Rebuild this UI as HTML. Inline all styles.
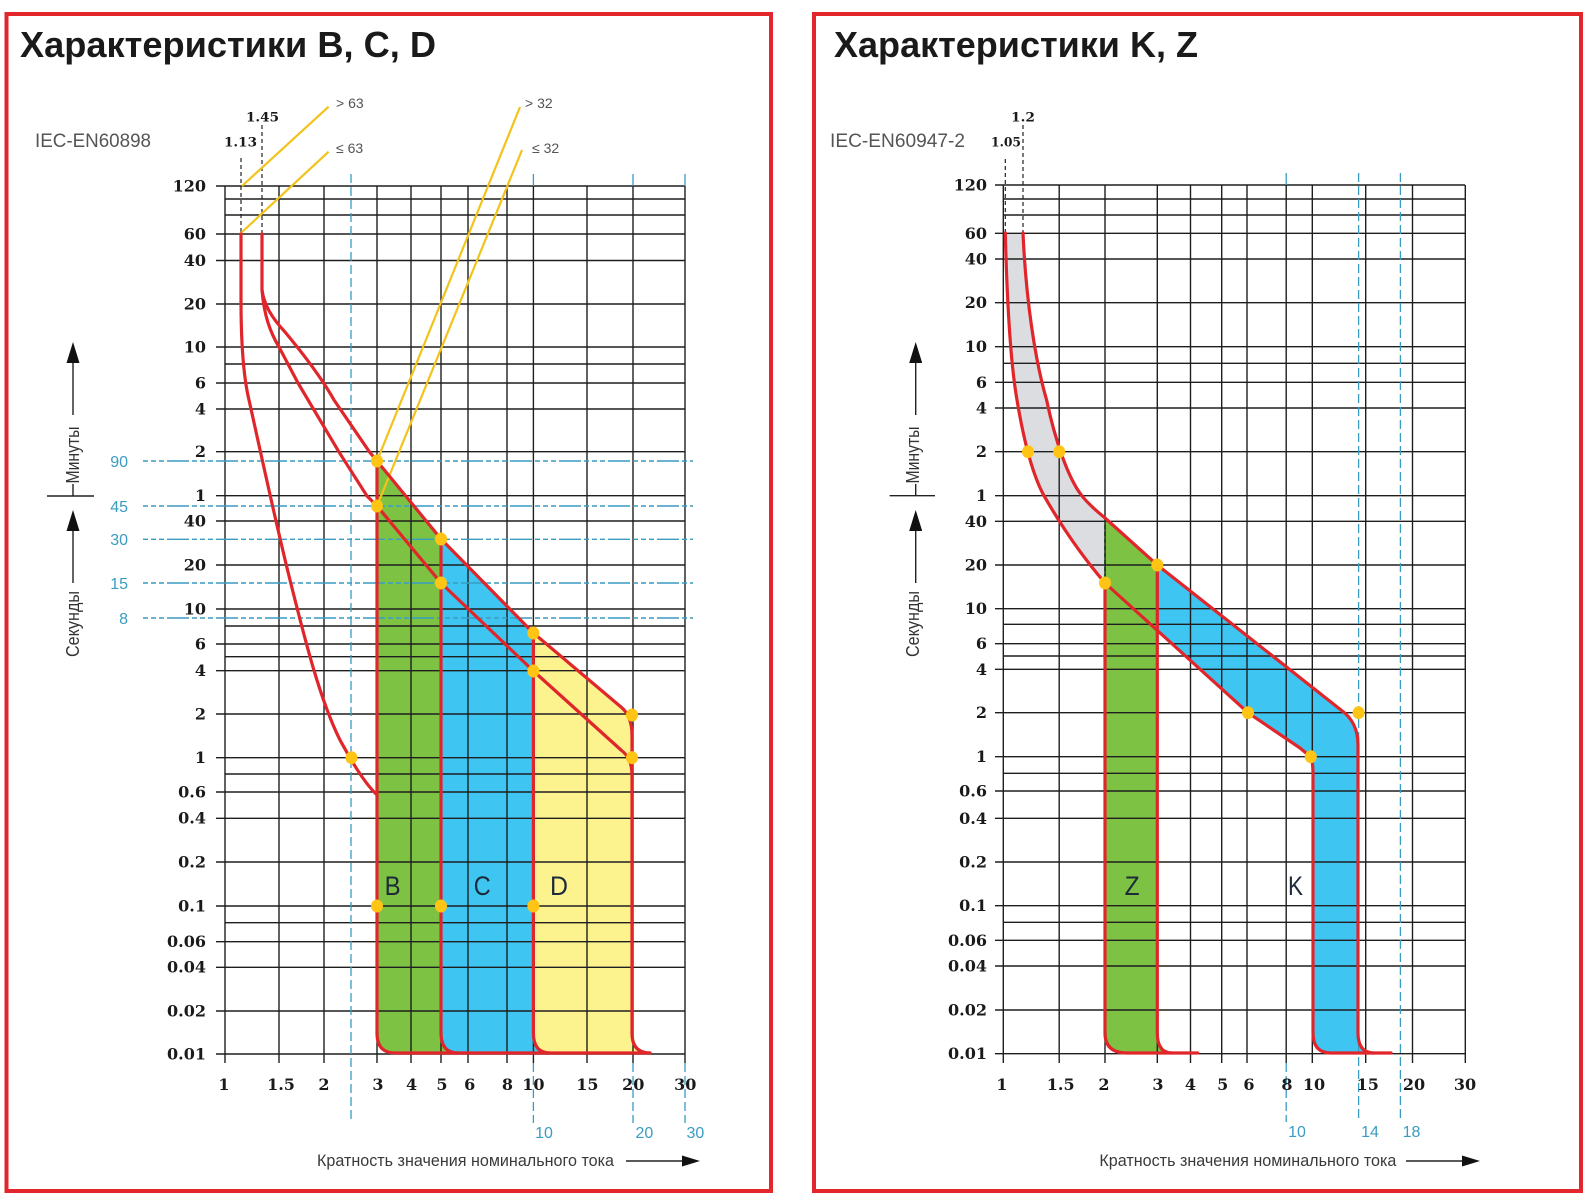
<!DOCTYPE html>
<html><head><meta charset="utf-8"><style>
html,body{margin:0;padding:0;background:#fff;}
svg{display:block;}
.tk{font-family:"DejaVu Serif","Liberation Serif",serif;font-weight:bold;font-size:16px;fill:#1a1a1a;}
.lt{font-family:"Liberation Sans","DejaVu Sans",sans-serif;}
</style></head><body>
<svg width="1589" height="1200" viewBox="0 0 1589 1200" xmlns="http://www.w3.org/2000/svg">
<rect x="0" y="0" width="1589" height="1200" fill="#fff"/>
<rect x="6.5" y="14" width="764.5" height="1177" fill="none" stroke="#e3262b" stroke-width="4"/>
<rect x="814" y="14" width="767" height="1177" fill="none" stroke="#e3262b" stroke-width="4"/>

<!-- ================= LEFT CHART ================= -->
<path d="M377,461 L441,539 L441,1033 Q441,1053 458,1053 L395,1053 Q377,1053 377,1033 Z" fill="#7dc242"/>
<path d="M441,539 L533.4,633 L533.4,1033 Q533.4,1053 550,1053 L458,1053 Q441,1053 441,1033 Z" fill="#3fc5f1"/>
<path d="M533.4,633 L621,707 Q632,716 632,735 L632,1033 Q632,1053 650,1053 L550,1053 Q533.4,1053 533.4,1033 Z" fill="#fdf38e"/>

<g stroke="#1e1e1e" stroke-width="1.4">
<line x1="225" y1="186" x2="225" y2="1063"/>
<line x1="279" y1="186" x2="279" y2="1063"/>
<line x1="324" y1="186" x2="324" y2="1063"/>
<line x1="377" y1="186" x2="377" y2="1063"/>
<line x1="411" y1="186" x2="411" y2="1063"/>
<line x1="441" y1="186" x2="441" y2="1063"/>
<line x1="468" y1="186" x2="468" y2="1063"/>
<line x1="507" y1="186" x2="507" y2="1063"/>
<line x1="533.4" y1="186" x2="533.4" y2="1063"/>
<line x1="587" y1="186" x2="587" y2="1063"/>
<line x1="633" y1="186" x2="633" y2="1063"/>
<line x1="685" y1="186" x2="685" y2="1063"/>
<line x1="216" y1="186" x2="685" y2="186"/>
<line x1="225" y1="199" x2="685" y2="199"/>
<line x1="225" y1="215" x2="685" y2="215"/>
<line x1="216" y1="234" x2="685" y2="234"/>
<line x1="216" y1="260.5" x2="685" y2="260.5"/>
<line x1="216" y1="304" x2="685" y2="304"/>
<line x1="216" y1="347" x2="685" y2="347"/>
<line x1="225" y1="364" x2="685" y2="364"/>
<line x1="216" y1="383" x2="685" y2="383"/>
<line x1="216" y1="409" x2="685" y2="409"/>
<line x1="216" y1="451.7" x2="685" y2="451.7"/>
<line x1="216" y1="495.7" x2="685" y2="495.7"/>
<line x1="216" y1="521" x2="685" y2="521"/>
<line x1="216" y1="565" x2="685" y2="565"/>
<line x1="216" y1="609" x2="685" y2="609"/>
<line x1="225" y1="626" x2="685" y2="626"/>
<line x1="216" y1="644" x2="685" y2="644"/>
<line x1="225" y1="656.7" x2="685" y2="656.7"/>
<line x1="216" y1="670.7" x2="685" y2="670.7"/>
<line x1="216" y1="714" x2="685" y2="714"/>
<line x1="216" y1="757.7" x2="685" y2="757.7"/>
<line x1="225" y1="774" x2="685" y2="774"/>
<line x1="216" y1="792" x2="685" y2="792"/>
<line x1="216" y1="818.3" x2="685" y2="818.3"/>
<line x1="216" y1="862" x2="685" y2="862"/>
<line x1="216" y1="906" x2="685" y2="906"/>
<line x1="225" y1="922.7" x2="685" y2="922.7"/>
<line x1="216" y1="941.7" x2="685" y2="941.7"/>
<line x1="216" y1="967.3" x2="685" y2="967.3"/>
<line x1="216" y1="1011" x2="685" y2="1011"/>
<line x1="216" y1="1054" x2="685" y2="1054"/>
</g>
<g stroke="#3a9cc2" stroke-width="1.3">
<line x1="351" y1="174" x2="351" y2="1123" stroke-dasharray="9 4"/>
<line x1="533.4" y1="174" x2="533.4" y2="186"/>
<line x1="633" y1="174" x2="633" y2="186"/>
<line x1="685" y1="174" x2="685" y2="186"/>
<line x1="533.4" y1="1063" x2="533.4" y2="1123" stroke-dasharray="9 4"/>
<line x1="633" y1="1063" x2="633" y2="1123" stroke-dasharray="9 4"/>
<line x1="685" y1="1063" x2="685" y2="1123" stroke-dasharray="9 4"/>
</g>
<g stroke="#3a9cc2" stroke-width="1.4" stroke-dasharray="5 3 5 3 5 3 22 3">
<line x1="143" y1="461" x2="693" y2="461"/>
<line x1="143" y1="506" x2="693" y2="506"/>
<line x1="143" y1="539.3" x2="693" y2="539.3"/>
<line x1="143" y1="583" x2="693" y2="583"/>
<line x1="143" y1="618" x2="693" y2="618"/>
</g>
<g class="lt" font-size="16" fill="#3a9cc2" text-anchor="end">
<text x="128" y="467">90</text>
<text x="128" y="512">45</text>
<text x="128" y="545">30</text>
<text x="128" y="589">15</text>
<text x="128" y="624">8</text>
</g>
<g stroke="#222" stroke-width="1.2" stroke-dasharray="4 3">
<line x1="241" y1="158" x2="241" y2="234"/>
<line x1="262" y1="125" x2="262" y2="234"/>
</g>
<g stroke="#f2c31b" stroke-width="2.2" fill="none">
<line x1="242" y1="186" x2="328.6" y2="106.7"/>
<line x1="241" y1="233" x2="328.6" y2="151.7"/>
<line x1="520" y1="107" x2="377" y2="461"/>
<line x1="522" y1="150" x2="377" y2="506"/>
</g>
<g stroke="#e0262b" stroke-width="3.2" fill="none" stroke-linejoin="round" stroke-linecap="round">
<path d="M241,234 L241,300 C241,340 243,375 249,400 C258,440 275,520 290,580 C305,640 320,700 340,740 C350,758 362,780 376,794"/>
<path d="M262,234 L262,290 C264,305 272,318 285,332 C300,350 320,375 334,400 L369.3,451.7 L377,461 L441,539 L533.4,633 L621,707 Q632,716 632,735 L632,1033 Q632,1053 650,1053"/>
<path d="M262,290 C264,315 270,332 279,347 L298,383 L338.8,451.7 L366.8,495.7 L377,506 L441,583 L533.4,671 L621,750 Q632,758 632,775"/>
<path d="M377,461 L377,1033 Q377,1053 395,1053 L650,1053"/>
<path d="M441,539 L441,1033 Q441,1053 458,1053"/>
<path d="M533.4,633 L533.4,1033 Q533.4,1053 550,1053"/>
</g>
<g fill="#ffc414">
<ellipse cx="377" cy="461" rx="6" ry="6.5"/>
<ellipse cx="377" cy="506" rx="6" ry="6.5"/>
<ellipse cx="441" cy="539" rx="6" ry="6.5"/>
<ellipse cx="441" cy="583" rx="6" ry="6.5"/>
<ellipse cx="533.4" cy="633" rx="6" ry="6.5"/>
<ellipse cx="533.4" cy="671" rx="6" ry="6.5"/>
<ellipse cx="632" cy="715" rx="6" ry="6.5"/>
<ellipse cx="632" cy="757.7" rx="6" ry="6.5"/>
<ellipse cx="351.5" cy="757.7" rx="6" ry="6.5"/>
<ellipse cx="377" cy="906" rx="6" ry="6.5"/>
<ellipse cx="441" cy="906" rx="6" ry="6.5"/>
<ellipse cx="533.4" cy="906" rx="6" ry="6.5"/>
</g>
<g class="tk" text-anchor="end">
<text x="206" y="191.5">120</text>
<text x="206" y="239.5">60</text>
<text x="206" y="266">40</text>
<text x="206" y="309.5">20</text>
<text x="206" y="352.5">10</text>
<text x="206" y="388.5">6</text>
<text x="206" y="414.5">4</text>
<text x="206" y="457">2</text>
<text x="206" y="501">1</text>
<text x="206" y="526.5">40</text>
<text x="206" y="570.5">20</text>
<text x="206" y="614.5">10</text>
<text x="206" y="649.5">6</text>
<text x="206" y="676">4</text>
<text x="206" y="719.5">2</text>
<text x="206" y="763">1</text>
<text x="206" y="797.5">0.6</text>
<text x="206" y="823.5">0.4</text>
<text x="206" y="867.5">0.2</text>
<text x="206" y="911.5">0.1</text>
<text x="206" y="947">0.06</text>
<text x="206" y="972.5">0.04</text>
<text x="206" y="1016.5">0.02</text>
<text x="206" y="1059.5">0.01</text>
</g>
<g class="tk" text-anchor="middle">
<text x="224" y="1090">1</text>
<text x="281" y="1090">1.5</text>
<text x="324" y="1090">2</text>
<text x="378" y="1090">3</text>
<text x="411.6" y="1090">4</text>
<text x="442" y="1090">5</text>
<text x="469.7" y="1090">6</text>
<text x="507.4" y="1090">8</text>
<text x="533.4" y="1090">10</text>
<text x="587.4" y="1090">15</text>
<text x="633.2" y="1090">20</text>
<text x="685.2" y="1090">30</text>
</g>
<g class="lt" font-size="16" fill="#3a9cc2" text-anchor="middle">
<text x="544" y="1138">10</text>
<text x="644.4" y="1138">20</text>
<text x="695.4" y="1138">30</text>
</g>
<g class="lt" font-size="27" fill="#1d2a3a">
<text x="384.6" y="895" textLength="16" lengthAdjust="spacingAndGlyphs">B</text>
<text x="473.8" y="895" textLength="17" lengthAdjust="spacingAndGlyphs">C</text>
<text x="550" y="895" textLength="18" lengthAdjust="spacingAndGlyphs">D</text>
</g>
<text x="20" y="57" font-family="Liberation Sans, sans-serif" font-weight="bold" font-size="36" fill="#1a1a1a" textLength="416" lengthAdjust="spacingAndGlyphs">Характеристики B, C, D</text>
<text x="35" y="147" class="lt" font-size="19" fill="#555" textLength="116" lengthAdjust="spacingAndGlyphs">IEC-EN60898</text>
<text x="224" y="146.5" class="tk" textLength="33" lengthAdjust="spacingAndGlyphs" style="font-size:13px">1.13</text>
<text x="246" y="121.5" class="tk" textLength="33" lengthAdjust="spacingAndGlyphs" style="font-size:13px">1.45</text>
<g class="lt" font-size="14" fill="#555">
<text x="336" y="108">&gt; 63</text>
<text x="336" y="153">≤ 63</text>
<text x="525" y="108">&gt; 32</text>
<text x="532" y="153">≤ 32</text>
</g>
<text x="317" y="1166" class="lt" font-size="17" fill="#3a3a3a" textLength="297" lengthAdjust="spacingAndGlyphs">Кратность значения номинального тока</text>
<line x1="626" y1="1161" x2="684" y2="1161" stroke="#222" stroke-width="1.5"/>
<polygon points="682,1155.5 700,1161 682,1166.5" fill="#111"/>
<g stroke="#222" stroke-width="1.4">
<line x1="73" y1="360" x2="73" y2="415"/>
<line x1="73" y1="484" x2="73" y2="496"/>
<line x1="47" y1="496" x2="94" y2="496"/>
<line x1="73" y1="529" x2="73" y2="583"/>
</g>
<polygon points="73,342 66.5,363 79.5,363" fill="#111"/>
<polygon points="73,510 66.5,531 79.5,531" fill="#111"/>
<text transform="translate(79,455) rotate(-90)" text-anchor="middle" class="lt" font-size="18" fill="#333" textLength="57" lengthAdjust="spacingAndGlyphs">Минуты</text>
<text transform="translate(79,624) rotate(-90)" text-anchor="middle" class="lt" font-size="18" fill="#333" textLength="66" lengthAdjust="spacingAndGlyphs">Секунды</text>

<!-- ================= RIGHT CHART ================= -->
<path d="M1023,233 C1026,300 1035,360 1046.6,400 C1055,440 1068,478 1081.8,495.7 C1090,506 1098,512 1105,518 L1105,583 C1075,548 1055,515 1044,495.7 C1030,470 1022,430 1017,400 C1010,360 1007,300 1005.3,233 Z" fill="#dcdde0"/>
<path d="M1105,518 L1157.3,565 L1157.3,1033 Q1157.3,1053 1172,1053 L1127,1053 Q1105,1053 1105,1033 Z" fill="#7dc242"/>
<path d="M1157.3,565 L1341,710 Q1358,722 1358,745 L1358,1033 Q1358,1053 1374,1053 L1331,1053 Q1313,1053 1313,1033 L1313,775 Q1313,762 1310.8,757 L1300,748 L1248,712.7 L1157.3,630.4 Z" fill="#3fc5f1"/>

<g stroke="#1e1e1e" stroke-width="1.4">
<line x1="1003.3" y1="185" x2="1003.3" y2="1063"/>
<line x1="1059.2" y1="185" x2="1059.2" y2="1063"/>
<line x1="1105" y1="185" x2="1105" y2="1063"/>
<line x1="1157.3" y1="185" x2="1157.3" y2="1063"/>
<line x1="1190.5" y1="185" x2="1190.5" y2="1063"/>
<line x1="1221.7" y1="185" x2="1221.7" y2="1063"/>
<line x1="1247" y1="185" x2="1247" y2="1063"/>
<line x1="1286.2" y1="185" x2="1286.2" y2="1063"/>
<line x1="1312.3" y1="185" x2="1312.3" y2="1063"/>
<line x1="1365.7" y1="185" x2="1365.7" y2="1063"/>
<line x1="1412.5" y1="185" x2="1412.5" y2="1063"/>
<line x1="1465.3" y1="185" x2="1465.3" y2="1063"/>
<line x1="995" y1="185" x2="1465" y2="185"/>
<line x1="1003" y1="199" x2="1465" y2="199"/>
<line x1="1003" y1="215" x2="1465" y2="215"/>
<line x1="995" y1="233.3" x2="1465" y2="233.3"/>
<line x1="995" y1="259" x2="1465" y2="259"/>
<line x1="995" y1="302.7" x2="1465" y2="302.7"/>
<line x1="995" y1="346.7" x2="1465" y2="346.7"/>
<line x1="1003" y1="363.3" x2="1465" y2="363.3"/>
<line x1="995" y1="382.3" x2="1465" y2="382.3"/>
<line x1="995" y1="408" x2="1465" y2="408"/>
<line x1="995" y1="451.7" x2="1465" y2="451.7"/>
<line x1="995" y1="495.7" x2="1465" y2="495.7"/>
<line x1="995" y1="521.3" x2="1465" y2="521.3"/>
<line x1="995" y1="565" x2="1465" y2="565"/>
<line x1="995" y1="608.7" x2="1465" y2="608.7"/>
<line x1="1003" y1="624.3" x2="1465" y2="624.3"/>
<line x1="995" y1="643.7" x2="1465" y2="643.7"/>
<line x1="1003" y1="656" x2="1465" y2="656"/>
<line x1="995" y1="669.3" x2="1465" y2="669.3"/>
<line x1="995" y1="712.7" x2="1465" y2="712.7"/>
<line x1="995" y1="756.7" x2="1465" y2="756.7"/>
<line x1="1003" y1="773.3" x2="1465" y2="773.3"/>
<line x1="995" y1="791" x2="1465" y2="791"/>
<line x1="995" y1="818.3" x2="1465" y2="818.3"/>
<line x1="995" y1="862" x2="1465" y2="862"/>
<line x1="995" y1="905.7" x2="1465" y2="905.7"/>
<line x1="1003" y1="922.3" x2="1465" y2="922.3"/>
<line x1="995" y1="940.3" x2="1465" y2="940.3"/>
<line x1="995" y1="966" x2="1465" y2="966"/>
<line x1="995" y1="1010" x2="1465" y2="1010"/>
<line x1="995" y1="1053.7" x2="1465" y2="1053.7"/>
</g>
<g stroke="#3a9cc2" stroke-width="1.3">
<line x1="1286.2" y1="173" x2="1286.2" y2="185"/>
<line x1="1286.2" y1="1063" x2="1286.2" y2="1122" stroke-dasharray="9 4"/>
<line x1="1358.6" y1="173" x2="1358.6" y2="1122" stroke-dasharray="9 4"/>
<line x1="1400.4" y1="173" x2="1400.4" y2="1122" stroke-dasharray="9 4"/>
</g>
<g stroke="#222" stroke-width="1.2" stroke-dasharray="4 3">
<line x1="1005.3" y1="159" x2="1005.3" y2="233"/>
<line x1="1023" y1="125" x2="1023" y2="233"/>
</g>
<line x1="1105" y1="518" x2="1105" y2="583" stroke="#123a18" stroke-width="1.6" stroke-dasharray="4 3"/>
<g stroke="#e0262b" stroke-width="3.2" fill="none" stroke-linejoin="round" stroke-linecap="round">
<path d="M1005.3,233 C1007,300 1010,360 1017,400 C1022,430 1030,470 1044,495.7 C1055,515 1075,548 1105,583 L1248,712.7 L1300,748 L1310.8,757 Q1313,762 1313,775 L1313,1033 Q1313,1053 1331,1053 L1391,1053"/>
<path d="M1023,233 C1026,300 1035,360 1046.6,400 C1055,440 1068,478 1081.8,495.7 C1090,506 1098,512 1105,518 L1157.3,565 L1341,710 Q1358,722 1358,745 L1358,1033 Q1358,1053 1374,1053"/>
<path d="M1105,583 L1105,1033 Q1105,1053 1127,1053 L1197.6,1053"/>
<path d="M1157.3,565 L1157.3,1033 Q1157.3,1053 1172,1053"/>
</g>
<g fill="#ffc414">
<ellipse cx="1028" cy="451.7" rx="6" ry="6.5"/>
<ellipse cx="1059.2" cy="451.7" rx="6" ry="6.5"/>
<ellipse cx="1157.3" cy="565" rx="6" ry="6.5"/>
<ellipse cx="1105" cy="583" rx="6" ry="6.5"/>
<ellipse cx="1248" cy="712.7" rx="6" ry="6.5"/>
<ellipse cx="1358.6" cy="712.7" rx="6" ry="6.5"/>
<ellipse cx="1310.8" cy="756.7" rx="6" ry="6.5"/>
</g>
<g class="tk" text-anchor="end">
<text x="987" y="190.5">120</text>
<text x="987" y="238.8">60</text>
<text x="987" y="264.5">40</text>
<text x="987" y="308.2">20</text>
<text x="987" y="352.2">10</text>
<text x="987" y="387.8">6</text>
<text x="987" y="413.5">4</text>
<text x="987" y="457.2">2</text>
<text x="987" y="501.2">1</text>
<text x="987" y="526.8">40</text>
<text x="987" y="570.5">20</text>
<text x="987" y="614.2">10</text>
<text x="987" y="649.2">6</text>
<text x="987" y="674.8">4</text>
<text x="987" y="718.2">2</text>
<text x="987" y="762.2">1</text>
<text x="987" y="796.5">0.6</text>
<text x="987" y="823.8">0.4</text>
<text x="987" y="867.5">0.2</text>
<text x="987" y="911.2">0.1</text>
<text x="987" y="945.8">0.06</text>
<text x="987" y="971.5">0.04</text>
<text x="987" y="1015.5">0.02</text>
<text x="987" y="1059.2">0.01</text>
</g>
<g class="tk" text-anchor="middle">
<text x="1002" y="1090">1</text>
<text x="1060.7" y="1090">1.5</text>
<text x="1104" y="1090">2</text>
<text x="1158" y="1090">3</text>
<text x="1190.5" y="1090">4</text>
<text x="1222.7" y="1090">5</text>
<text x="1249" y="1090">6</text>
<text x="1287" y="1090">8</text>
<text x="1314" y="1090">10</text>
<text x="1367.7" y="1090">15</text>
<text x="1414" y="1090">20</text>
<text x="1465" y="1090">30</text>
</g>
<g class="lt" font-size="16" fill="#3a9cc2" text-anchor="middle">
<text x="1297" y="1137">10</text>
<text x="1370" y="1137">14</text>
<text x="1411.5" y="1137">18</text>
</g>
<g class="lt" font-size="27" fill="#1d2a3a">
<text x="1124.6" y="895" textLength="15" lengthAdjust="spacingAndGlyphs">Z</text>
<text x="1288" y="895" textLength="15" lengthAdjust="spacingAndGlyphs">K</text>
</g>
<text x="834" y="57" font-family="Liberation Sans, sans-serif" font-weight="bold" font-size="36" fill="#1a1a1a" textLength="364" lengthAdjust="spacingAndGlyphs">Характеристики K, Z</text>
<text x="830" y="147" class="lt" font-size="19" fill="#555" textLength="135" lengthAdjust="spacingAndGlyphs">IEC-EN60947-2</text>
<text x="991" y="146.5" class="tk" textLength="30" lengthAdjust="spacingAndGlyphs" style="font-size:13px">1.05</text>
<text x="1011" y="121.5" class="tk" textLength="24" lengthAdjust="spacingAndGlyphs" style="font-size:13px">1.2</text>
<text x="1099.4" y="1166" class="lt" font-size="17" fill="#3a3a3a" textLength="297" lengthAdjust="spacingAndGlyphs">Кратность значения номинального тока</text>
<line x1="1406" y1="1161" x2="1464" y2="1161" stroke="#222" stroke-width="1.5"/>
<polygon points="1462,1155.5 1480,1161 1462,1166.5" fill="#111"/>
<g stroke="#222" stroke-width="1.4">
<line x1="915.7" y1="360" x2="915.7" y2="415"/>
<line x1="915.7" y1="484" x2="915.7" y2="496"/>
<line x1="889.6" y1="495.7" x2="935" y2="495.7"/>
<line x1="915.7" y1="529" x2="915.7" y2="583"/>
</g>
<polygon points="915.7,342 909.2,363 922.2,363" fill="#111"/>
<polygon points="915.7,510 909.2,531 922.2,531" fill="#111"/>
<text transform="translate(919,455) rotate(-90)" text-anchor="middle" class="lt" font-size="18" fill="#333" textLength="57" lengthAdjust="spacingAndGlyphs">Минуты</text>
<text transform="translate(919,624) rotate(-90)" text-anchor="middle" class="lt" font-size="18" fill="#333" textLength="66" lengthAdjust="spacingAndGlyphs">Секунды</text>
</svg>
</body></html>
